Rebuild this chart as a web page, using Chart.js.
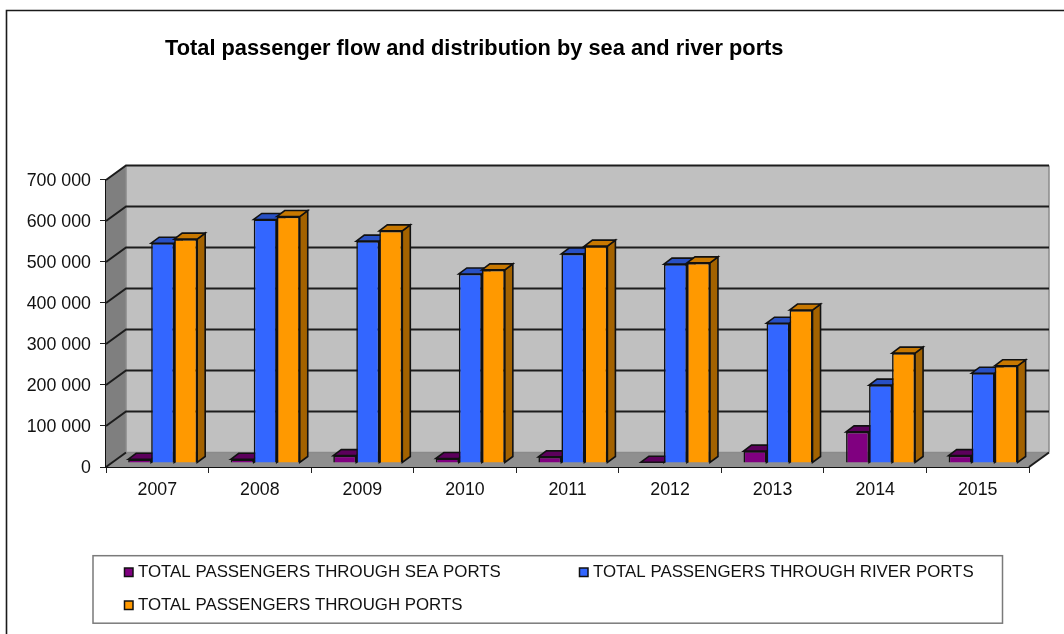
<!DOCTYPE html>
<html>
<head>
<meta charset="utf-8">
<style>html,body{margin:0;padding:0;background:#fff}#wrap{position:relative;width:1064px;height:634px}canvas{display:block}</style>
<script src="https://cdn.jsdelivr.net/npm/chart.js@4/dist/chart.umd.min.js"></script>
</head>
<body>
<div id="wrap"><canvas id="c" width="1064" height="634"></canvas></div>
<script>
const titleText = "Total passenger flow and distribution by sea and river ports";
const categories = ["2007","2008","2009","2010","2011","2012","2013","2014","2015"];
const seaPorts   = [9000, 9000, 18000, 11000, 15000, 2000, 29000, 76000, 18000];
const riverPorts = [536000, 594000, 541000, 461000, 510000, 485000, 341000, 190000, 219000];
const allPorts   = [546000, 601000, 566000, 471000, 529000, 488000, 373000, 268000, 237000];
const seriesNames = ["TOTAL PASSENGERS THROUGH SEA PORTS","TOTAL PASSENGERS THROUGH RIVER PORTS","TOTAL PASSENGERS THROUGH PORTS"];
const frontColors = ["#800080","#3366ff","#ff9900"];
const topColors   = ["#5c005c","#2850c4","#c87800"];
const sideColors  = ["#4c004c","#1f3f9c","#a36200"];
const yMax = 700000, yStep = 100000;

const FONT = '"Liberation Sans", Arial, sans-serif';
const WALL = {dx:20, dy:-14.5};      // depth of the box
const BAR  = {ox:5.4, oy:-4, dx:8, dy:-6}; // bar position and depth inside the box

const poly = (ctx, pts, fill, stroke, lw) => {
  ctx.beginPath();
  pts.forEach((p,i)=> i ? ctx.lineTo(p[0],p[1]) : ctx.moveTo(p[0],p[1]));
  ctx.closePath();
  if (fill){ctx.fillStyle=fill;ctx.fill();}
  if (stroke){ctx.strokeStyle=stroke;ctx.lineWidth=lw||1;ctx.lineJoin='miter';ctx.stroke();}
};

const box3d = {
  id:'box3d',
  afterLayout(chart){
    if (chart.titleBlock){ chart.titleBlock.left = 165; chart.titleBlock.right = 1000; chart.titleBlock.top = 37; chart.titleBlock.bottom = 61; }
  },
  beforeDraw(chart){
    const ctx = chart.ctx;
    ctx.save();
    // outer frame: top and left edges only
    ctx.strokeStyle='#1a1a1a'; ctx.lineWidth=1.6;
    ctx.beginPath(); ctx.moveTo(1064,10.5); ctx.lineTo(6.5,10.5); ctx.lineTo(6.5,634); ctx.stroke();
    ctx.restore();
  },
  beforeDatasetsDraw(chart){
    const ctx = chart.ctx, a = chart.chartArea, y = chart.scales.y;
    const d = WALL, L=a.left, R=a.right, T=a.top, B=a.bottom;
    ctx.save();
    poly(ctx,[[L+d.dx,T+d.dy],[R+d.dx,T+d.dy],[R+d.dx,B+d.dy],[L+d.dx,B+d.dy]],'#c0c0c0');
    poly(ctx,[[L,T],[L+d.dx,T+d.dy],[L+d.dx,B+d.dy],[L,B]],'#7f7f7f');
    poly(ctx,[[L,B],[R,B],[R+d.dx,B+d.dy],[L+d.dx,B+d.dy]],'#8f8f8f');
    ctx.strokeStyle='#8a8a8a'; ctx.lineWidth=1.5;
    ctx.beginPath();
    ctx.moveTo(R+d.dx,T+d.dy); ctx.lineTo(R+d.dx,B+d.dy); ctx.moveTo(L+d.dx,T+d.dy); ctx.lineTo(L+d.dx,B+d.dy); ctx.lineTo(R+d.dx,B+d.dy);
    ctx.stroke();
    // gridlines across the side wall and back wall
    ctx.strokeStyle='#1c1c1c'; ctx.lineWidth=2;
    y.ticks.forEach(t=>{
      if (t.value===0) return;
      const py = y.getPixelForValue(t.value);
      ctx.beginPath(); ctx.moveTo(L,py); ctx.lineTo(L+d.dx,py+d.dy); ctx.lineTo(R+d.dx,py+d.dy); ctx.stroke();
    });
    // floor edges
    ctx.beginPath(); ctx.moveTo(L,B); ctx.lineTo(L+d.dx,B+d.dy); ctx.stroke();
    ctx.beginPath(); ctx.moveTo(R,B); ctx.lineTo(R+d.dx,B+d.dy); ctx.stroke();
    // bars, left to right so every bar hides the side face of its left neighbour
    ctx.translate(BAR.ox,BAR.oy);
    chart.getSortedVisibleDatasetMetas().forEach(meta=>{
      const i = meta.index;
      meta.data.forEach(el=>{
        const p = el.getProps(['x','y','base','width'],true);
        const l=p.x-p.width/2, r=p.x+p.width/2, t=p.y, b=p.base;
        poly(ctx,[[r,t],[r+BAR.dx,t+BAR.dy],[r+BAR.dx,b+BAR.dy],[r,b]],sideColors[i],'#111',1.6);
        poly(ctx,[[l,t],[l+BAR.dx,t+BAR.dy],[r+BAR.dx,t+BAR.dy],[r,t]],topColors[i],'#111',1.6);
        el.draw(ctx);
      });
    });
    ctx.restore();
    return false;
  },
  afterDraw(chart){
    const ctx = chart.ctx;
    ctx.save();
    // legend panel
    ctx.strokeStyle='#7a7a7a'; ctx.lineWidth=1.5;
    ctx.strokeRect(93,555.7,909.5,67.5);
    const slots=[[124.5,138,572.5],[579.5,593,572.5],[124.5,138,605.5]];
    ctx.font='16.85px '+FONT; ctx.textBaseline='middle'; ctx.textAlign='left';
    seriesNames.forEach((n,i)=>{
      const [mx,tx,ty]=slots[i];
      ctx.fillStyle=frontColors[i]; ctx.strokeStyle='#111'; ctx.lineWidth=1.5;
      ctx.fillRect(mx,ty-4.5,8.5,8.5); ctx.strokeRect(mx,ty-4.5,8.5,8.5);
      ctx.fillStyle='#111';
      ctx.fillText(n,tx,ty);
    });
    ctx.restore();
  }
};

new Chart(document.getElementById('c'),{
  type:'bar',
  data:{
    labels:categories,
    datasets:[
      {label:seriesNames[0],data:seaPorts,backgroundColor:frontColors[0]},
      {label:seriesNames[1],data:riverPorts,backgroundColor:frontColors[1]},
      {label:seriesNames[2],data:allPorts,backgroundColor:frontColors[2]}
    ].map(d=>Object.assign(d,{borderColor:'#111',borderWidth:1.6,categoryPercentage:0.673,barPercentage:1}))
  },
  options:{
    responsive:false,animation:false,
    layout:{padding:{left:0,top:156,right:35,bottom:127}},
    plugins:{
      legend:{display:false},tooltip:{enabled:false},
      title:{display:true,text:titleText,align:'start',color:'#000',padding:0,font:{family:FONT,size:21.8,weight:'bold',lineHeight:1.1}}
    },
    scales:{
      x:{
        offset:true,
        afterFit(s){s.height=40;},
        grid:{drawOnChartArea:false,drawTicks:true,tickLength:6,color:'#222',offset:true},
        border:{color:'#111',width:2},
        ticks:{color:'#111',padding:6,maxRotation:0,font:{family:FONT,size:17.8}}
      },
      y:{
        min:0,max:yMax,
        afterFit(s){s.width=106;},
        grid:{drawOnChartArea:false,drawTicks:true,tickLength:6,color:'#222'},
        border:{color:'#111',width:2},
        ticks:{stepSize:yStep,color:'#111',padding:9,labelOffset:1.5,font:{family:FONT,size:17.8},
          callback:v=>String(v).replace(/\B(?=(\d{3})+$)/g,' ')}
      }
    }
  },
  plugins:[box3d]
});
</script>
</body>
</html>
